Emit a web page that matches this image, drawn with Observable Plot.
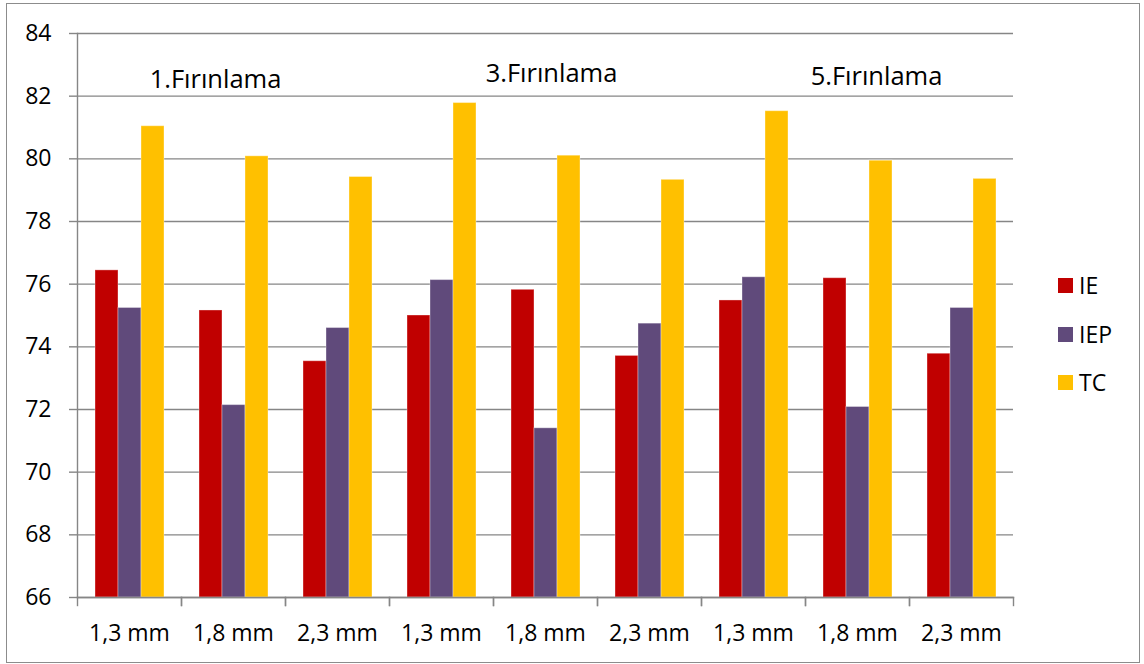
<!DOCTYPE html>
<html>
<head>
<meta charset="utf-8">
<script src="https://cdn.jsdelivr.net/npm/d3@7"></script>
<script src="https://cdn.jsdelivr.net/npm/@observablehq/plot@0.6"></script>
<style>
  body { margin: 0; background: #fff; }
  #wrap { position: relative; width: 1144px; height: 664px; font-family: "Open Sans", sans-serif; }
  #border { position: absolute; left: 6px; top: 3px; width: 1134px; height: 660px; border: 1px solid #8c8c8c; box-sizing: border-box; pointer-events: none; }
  #chart { position: absolute; left: 0; top: 0; }
  #legend { position: absolute; left: 1058px; top: 278px; }
  .row { position: absolute; left: 0; height: 15px; white-space: nowrap; }
  .sw { position: absolute; left: 0; top: 0; width: 15px; height: 15px; }
  .lab { position: absolute; left: 21px; top: -9px; font-size: 23px; line-height: 32px; color: #000; }
</style>
</head>
<body>
<div id="wrap">
  <div id="chart"></div>
  <div id="legend"></div>
  <div id="border"></div>
</div>
<script>
// Firing rounds, sample thicknesses and measured series
const firings = ["1.Fırınlama", "3.Fırınlama", "5.Fırınlama"];
const thicknesses = ["1,3 mm", "1,8 mm", "2,3 mm"];
const series = ["IE", "IEP", "TC"];
const colors = ["#C00000", "#604A7B", "#FFC000"];

// Values per group, ordered firing by firing, thickness by thickness
const ieValues  = [76.44, 75.16, 73.54, 75.00, 75.82, 73.71, 75.48, 76.19, 73.78];
const iepValues = [75.24, 72.14, 74.60, 76.13, 71.40, 74.74, 76.22, 72.08, 75.24];
const tcValues  = [81.04, 80.08, 79.42, 81.78, 80.10, 79.33, 81.52, 79.94, 79.36];

const yTicks = [66, 68, 70, 72, 74, 76, 78, 80, 82, 84];

// One key per group (firing index + thickness) so repeated labels stay distinct
const groups = firings.flatMap((f, i) => thicknesses.map(t => `${i}|${t}`));
const valuesBySeries = [ieValues, iepValues, tcValues];
const rows = groups.flatMap((g, gi) =>
  series.map((s, si) => ({group: g, series: s, value: valuesBySeries[si][gi]}))
);

// Firing titles, each written above the middle thickness of its round
const titles = firings.map((f, i) => ({group: `${i}|${thicknesses[1]}`, label: f}));
const titleShift = [{dx: -18, dy: 4}, {dx: 6, dy: -2}, {dx: 19, dy: 1}];

const W = 1144, H = 664;
const gray = "#868686";
const font = "'Open Sans', sans-serif";

const chart = Plot.plot({
  width: W,
  height: H,
  marginLeft: 75,
  marginRight: 129,
  marginTop: 33,
  marginBottom: 67,
  style: {fontFamily: font, fontSize: "23px", color: "#000", background: "transparent", overflow: "visible"},
  fx: {domain: groups, padding: 0},
  x: {domain: series, paddingInner: 0, paddingOuter: 0.74, axis: null},
  y: {domain: [66, 84]},
  color: {domain: series, range: colors},
  marks: [
    Plot.gridY(yTicks, {stroke: gray, strokeOpacity: 1, strokeWidth: 1.4}),
    // group separators below the baseline
    Plot.frame({anchor: "left", stroke: gray, strokeWidth: 1.4, insetTop: 564, insetBottom: -8}),
    Plot.frame({anchor: "right", stroke: gray, strokeWidth: 1.4, insetTop: 564, insetBottom: -8}),
    Plot.barY(rows, {fx: "group", x: "series", y1: 66, y2: "value", fill: "series",
                     stroke: "#ffffff", strokeOpacity: 0.35, strokeWidth: 1}),
    Plot.frame({anchor: "left", facet: "super", stroke: gray, strokeWidth: 1.4}),
    Plot.frame({anchor: "bottom", facet: "super", stroke: gray, strokeWidth: 1.4}),
    Plot.axisY(yTicks, {tickSize: 8, tickPadding: 18, stroke: gray, strokeWidth: 1.4, fill: "#000",
                        fontSize: 23, label: null}),
    Plot.axisFx({anchor: "bottom", tickSize: 0, tickPadding: 27, fontSize: 23, fill: "#000",
                 tickFormat: d => d.split("|")[1], label: null}),
    ...titles.map((t, i) => Plot.text([t], {
      fx: "group", text: "label", y: 82.65,
      dx: titleShift[i].dx, dy: titleShift[i].dy,
      fontSize: 25.5, fill: "#000"
    }))
  ]
});
document.getElementById("chart").appendChild(chart);

// Vertical legend on the right
const legend = document.getElementById("legend");
series.forEach((s, i) => {
  const row = document.createElement("div");
  row.className = "row";
  row.style.top = `${i * 48.5}px`;
  const sw = document.createElement("div");
  sw.className = "sw";
  sw.style.background = colors[i];
  const lab = document.createElement("div");
  lab.className = "lab";
  lab.textContent = s;
  row.append(sw, lab);
  legend.append(row);
});
</script>
</body>
</html>
